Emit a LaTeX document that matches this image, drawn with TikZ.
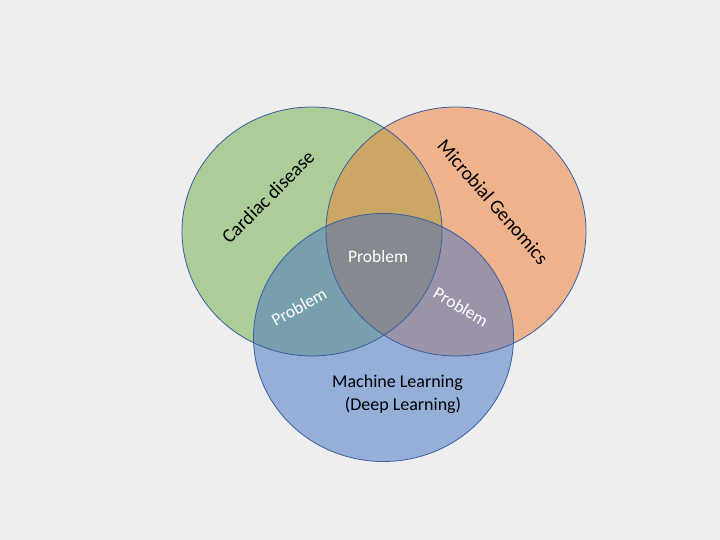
\documentclass[tikz,border=0pt]{standalone}
\usepackage{fontspec}
\setmainfont{Carlito}
\definecolor{bgc}{RGB}{238,238,238}
\definecolor{gc}{RGB}{172,204,152}
\definecolor{oc}{RGB}{238,179,141}
\definecolor{bc}{RGB}{150,175,217}
\definecolor{goc}{RGB}{204,166,101}
\definecolor{gbc}{RGB}{119,159,174}
\definecolor{obc}{RGB}{154,147,169}
\definecolor{gobc}{RGB}{135,137,145}
\definecolor{linec}{RGB}{58,94,160}
\begin{document}
\begin{tikzpicture}[x=1pt,y=-1pt,
  lbl/.style={inner sep=0pt,font=\fontsize{18}{21.6}\selectfont,text=black},
  tlbl/.style={inner sep=0pt,font=\fontsize{19.5}{23}\selectfont,text=black},
  wlbl/.style={inner sep=0pt,font=\fontsize{17.5}{21}\selectfont,text=white},
  ring/.style={draw=linec,line width=0.8pt}]
\fill[bgc] (0,0) rectangle (720,540);
\useasboundingbox (0,0) rectangle (720,540);
\def\G{(312,231.5) ellipse [x radius=130,y radius=124.5]}
\def\O{(456,231.5) ellipse [x radius=130,y radius=124.5]}
\def\B{(383.5,337.5) ellipse [x radius=130,y radius=124]}
\fill[gc] \G;
\fill[oc] \O;
\begin{scope}\clip \G; \fill[goc] \O; \end{scope}
\fill[bc] \B;
\begin{scope}\clip \B; \fill[gbc] \G; \end{scope}
\begin{scope}\clip \B; \fill[obc] \O; \end{scope}
\begin{scope}\clip \B; \clip \G; \fill[gobc] \O; \end{scope}
\draw[ring] \G;
\draw[ring] \O;
\draw[ring] \B;
\node[tlbl,rotate=45] (cardiac) at (268,197) {Cardiac disease};
\node[tlbl,rotate=-49] (microbial) at (493,202) {Microbial Genomics};
\node[lbl] (ml1) at (397.5,383) {Machine Learning};
\node[lbl] (ml2) at (403,405) {(Deep Learning)};
\node[wlbl] (pc) at (378,256) {Problem};
\node[wlbl,rotate=29] (pl) at (299,307) {Problem};
\node[wlbl,rotate=-31] (pr) at (461,307) {Problem};
\end{tikzpicture}
\end{document}
